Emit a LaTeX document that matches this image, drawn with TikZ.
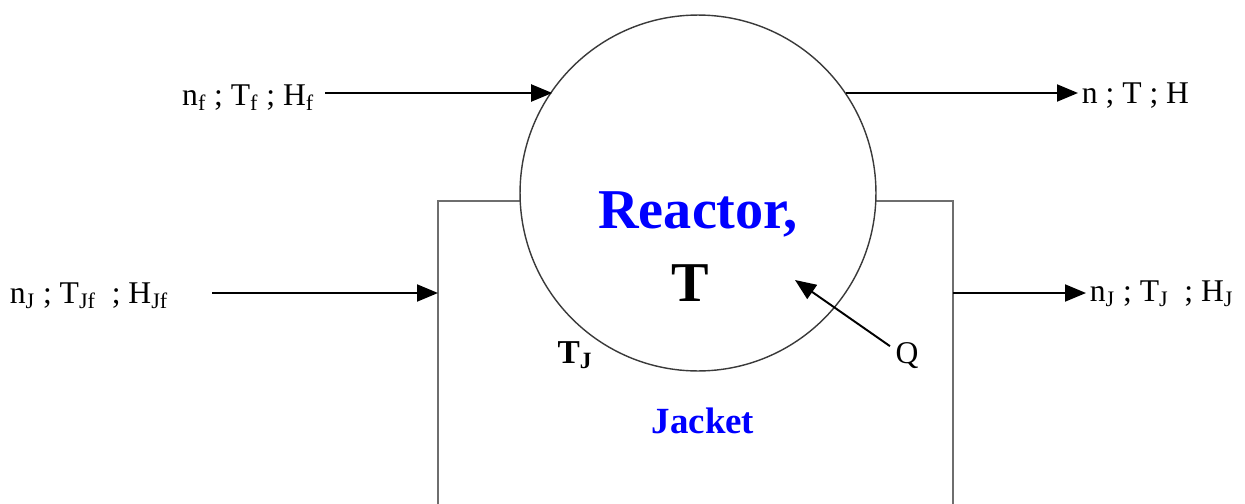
\documentclass[tikz,border=0pt]{standalone}
\usepackage{fontspec}
\setmainfont{Liberation Serif}
\usepackage{tikz}
\usetikzlibrary{arrows.meta,positioning,calc}
\definecolor{ink}     {HTML}{000000}
\definecolor{wallgray}{HTML}{6E6E6E}
\definecolor{rimgray} {HTML}{3A3A3A}
\definecolor{tagblue} {HTML}{0000FF}
\newcommand{\subt}[1]{\textsubscript{#1}}
\tikzset{
  reactorcirc/.style={circle, draw=rimgray, fill=white, line width=0.8pt,
                      minimum size=7.12cm, inner sep=0pt, outer sep=0pt},
  jacketwall/.style ={draw=wallgray, line width=1.1pt},
  streamlbl/.style  ={font=\fontsize{18}{20}\selectfont, inner sep=2pt},
  bigtag/.style     ={font=\fontsize{32}{36}\selectfont\bfseries, inner sep=0pt},
  flowarr/.style    ={-{Triangle[length=0.42cm,width=0.34cm]}, line width=1.1pt, draw=ink},
}

\begin{document}
\begin{tikzpicture}[x=0.02cm,y=-0.02cm]
    \useasboundingbox (0,0) rectangle (1245,504);
    % jacket walls
    \draw[jacketwall] (438,504) -- (438,201) -- (953,201) -- (953,504);
    \coordinate (jin) at (438,293);
    \coordinate (jout) at (953,293);
    \node[reactorcirc] (reactor) at (698,193) {};

    \node[bigtag,text=tagblue] (rname) at (698,214) {Reactor,};
    \node[bigtag] (rtemp) at (690,283) {T};
    \node[font=\fontsize{19}{21}\selectfont\bfseries, inner sep=0pt] (tj) at (575,355) {T\subt{J}};
    \node[font=\fontsize{21}{23}\selectfont\bfseries, text=tagblue, inner sep=0pt] (jacket) at (703,421) {Jacket};

    \node[streamlbl,anchor=east] (feed) at (318,98) {n\subt{f} ; T\subt{f} ; H\subt{f}};
    \node[streamlbl,anchor=west] (prod) at (1078,96) {n ; T ; H};
    \node[streamlbl,anchor=west] (jfeed) at (6,296) {n\subt{J} ; T\subt{Jf}\ \ ; H\subt{Jf}};
    \node[streamlbl,anchor=west] (jprod) at (1086,294) {n\subt{J} ; T\subt{J}\ \ ; H\subt{J}};
    \node[streamlbl,inner sep=0pt] (heat) at (907,356) {Q};
    \coordinate (feedstart) at (325,93);
    \coordinate (jfeedstart) at (212,293);
    \coordinate (qtip) at (795,280);

    \draw[flowarr] (feedstart) -- (feedstart -| reactor.145.8);
    \draw[flowarr] (feedstart -| reactor.34.2) -- (prod.west |- feedstart);
    \draw[flowarr] (jfeedstart) -- (jin);
    \draw[flowarr] (jout) -- (jprod.west |- jout);
    \draw[flowarr] ([xshift=-3pt,yshift=-2pt]heat.north west) -- (qtip);
\end{tikzpicture}
\end{document}
